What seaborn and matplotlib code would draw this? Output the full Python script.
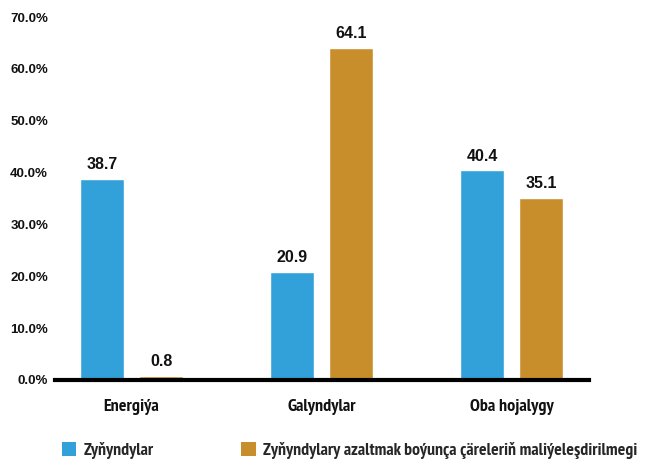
import matplotlib
matplotlib.use("Agg")
import matplotlib.pyplot as plt
import seaborn as sns
import pandas as pd
from matplotlib.patches import Patch

categories = ["Energiýa", "Galyndylar", "Oba hojalygy"]
series_names = ["Zyňyndylar", "Zyňyndylary azaltmak boýunça çäreleriň maliýeleşdirilmegi"]
emissions = [38.7, 20.9, 40.4]
financing = [0.8, 64.1, 35.1]
yticks = [0, 10, 20, 30, 40, 50, 60, 70]
colors = ["#33a1d9", "#c98e2c"]

df = pd.DataFrame({
    "cat": categories * 2,
    "series": [series_names[0]] * 3 + [series_names[1]] * 3,
    "val": emissions + financing,
})

sns.set_theme(style="white")
plt.rcParams["font.family"] = ["Liberation Sans", "DejaVu Sans"]
narrow = ["PT Sans Narrow", "DejaVu Sans"]

W, H = 645, 462
fig = plt.figure(figsize=(W / 100, H / 100), dpi=100)
left, right, bottom, top = 55, 589, 380, 17
ax = fig.add_axes([left / W, 1 - bottom / H, (right - left) / W, (bottom - top) / H])

sns.barplot(data=df, x="cat", y="val", hue="series", hue_order=series_names,
            palette=colors, width=0.62, gap=0.26, ax=ax, legend=False,
            saturation=1, errorbar=None)

ax.set_xlim(-0.403, 2.408)
ax.set_ylim(0, 70)
ax.set_yticks(yticks)
ax.set_yticklabels([f"{v:.1f}%" for v in yticks], fontsize=9.5, fontweight="bold",
                   color="#111111")
ax.tick_params(axis="y", length=0, pad=5)
ax.tick_params(axis="x", length=0, pad=14)
for lab in ax.get_xticklabels():
    lab.set_family(narrow)
    lab.set_fontweight("bold")
    lab.set_fontsize(13)
    lab.set_color("#111111")
ax.set_xlabel("")
ax.set_ylabel("")
for s in ["top", "right", "left"]:
    ax.spines[s].set_visible(False)
ax.spines["bottom"].set_linewidth(3)
ax.spines["bottom"].set_color("#000000")

for cont in ax.containers:
    ax.bar_label(cont, fmt="%.1f", padding=5, fontsize=11.5, fontweight="bold",
                 color="#111111")

handles = [Patch(facecolor=c, edgecolor="none") for c in colors]
fig.legend(handles, series_names, loc="lower left", bbox_to_anchor=(62 / W, 0.006),
           ncol=2, frameon=False, handlelength=0.8, handleheight=0.8,
           handletextpad=0.4, columnspacing=4.95, borderaxespad=0.0, borderpad=0.0,
           prop={"family": narrow, "weight": "bold", "size": 12.8})

fig.savefig("out.png", dpi=100)
